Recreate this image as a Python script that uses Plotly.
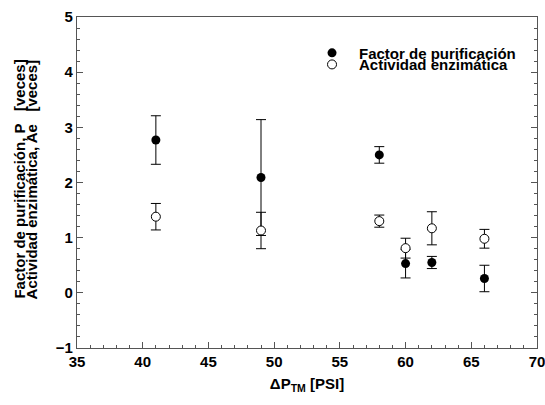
import plotly.graph_objects as go

# Transmembrane pressure (PSI)
presion = [41, 49, 58, 60, 62, 66]

# Purification factor and its standard deviation
factor_p = [2.77, 2.09, 2.50, 0.53, 0.55, 0.26]
factor_err = [0.44, 1.05, 0.15, 0.26, 0.11, 0.24]

# Enzymatic activity and its standard deviation
actividad = [1.38, 1.13, 1.30, 0.81, 1.17, 0.98]
actividad_err = [0.24, 0.33, 0.11, 0.18, 0.30, 0.17]

FONT = "Liberation Sans, Arial, sans-serif"

fig = go.Figure()

fig.add_trace(go.Scatter(
    x=presion, y=factor_p, mode="markers", name="Factor de purificación",
    marker=dict(symbol="circle", size=9, color="black", line=dict(width=0)),
    error_y=dict(type="data", array=factor_err, visible=True,
                 color="black", thickness=1, width=5),
    legend="legend",
))

fig.add_trace(go.Scatter(
    x=presion, y=actividad, mode="markers", name="Actividad enzimática",
    marker=dict(symbol="circle", size=9, color="white",
                line=dict(width=1, color="black")),
    error_y=dict(type="data", array=actividad_err, visible=True,
                 color="black", thickness=1, width=5),
    legend="legend2",
))

legend_common = dict(
    font=dict(family=FONT, size=15, color="black", weight="bold"),
    bgcolor="rgba(0,0,0,0)", borderwidth=0, itemwidth=44,
    xanchor="left", yanchor="middle",
)

axis_font = dict(family=FONT, size=15, color="black", weight="bold")

fig.update_layout(
    width=545, height=405,
    margin=dict(l=77, r=8, t=17, b=57),
    paper_bgcolor="white", plot_bgcolor="white",
    font=dict(family=FONT, color="black"),
    showlegend=True,
    legend=dict(x=0.4957, y=0.891, **legend_common),
    legend2=dict(x=0.4957, y=0.856, **legend_common),
    xaxis=dict(
        range=[35, 70], dtick=5, tick0=35, automargin=False,
        ticklabeloverflow="allow",
        showgrid=False, zeroline=False,
        showline=True, linecolor="#555", linewidth=1.2, mirror=True,
        ticks="inside", ticklen=6, tickwidth=1, tickcolor="#555",
        minor=dict(dtick=1, ticks="inside", ticklen=3, tickcolor="#555", showgrid=False),
        tickfont=axis_font,
        title=dict(text="ΔP<sub>TM</sub> [PSI]", standoff=9, font=axis_font),
    ),
    yaxis=dict(
        range=[-1, 5], dtick=1, tick0=0, automargin=False,
        ticklabeloverflow="allow",
        showgrid=False, zeroline=False,
        showline=True, linecolor="#555", linewidth=1.2, mirror="ticks",
        ticks="inside", ticklen=6, tickwidth=1, tickcolor="#555",
        minor=dict(dtick=0.2, ticks="inside", ticklen=3, tickcolor="#555", showgrid=False),
        tickfont=axis_font,
    ),
)

# Two-line y-axis title
title_font = dict(family=FONT, size=15, color="black", weight="bold")
fig.add_annotation(text="Factor de purificación, P&nbsp;&nbsp;&nbsp;[veces]", textangle=-90,
                   xref="paper", yref="paper", x=-0.126, y=0.509,
                   xanchor="center", yanchor="middle", showarrow=False,
                   font=title_font)
fig.add_annotation(text="Actividad enzimática, Ae&nbsp;&nbsp;&nbsp;[veces]", textangle=-90,
                   xref="paper", yref="paper", x=-0.098, y=0.509,
                   xanchor="center", yanchor="middle", showarrow=False,
                   font=title_font)

fig.write_html("out.html")
